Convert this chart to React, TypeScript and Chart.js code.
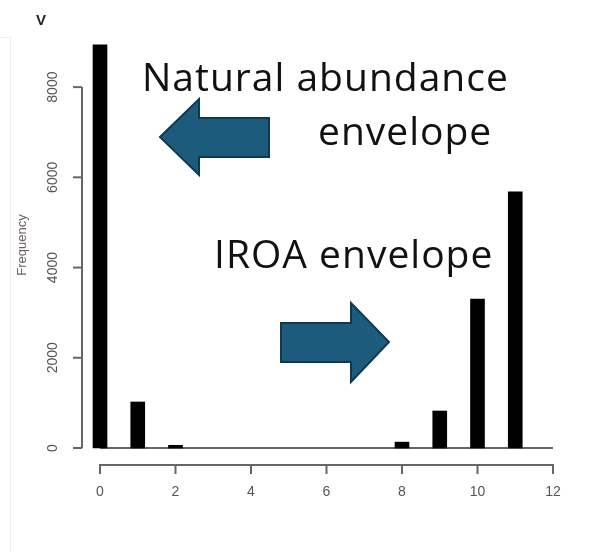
import React, { useEffect, useRef } from "react";
import { Chart, registerables } from "chart.js";

Chart.register(...registerables);

// ---- data ----
const bins = [0, 1, 2, 8, 9, 10, 11];
const frequencies = [8940, 1020, 60, 130, 820, 3300, 5680];
const xTicks = [0, 2, 4, 6, 8, 10, 12];
const yTicks = [0, 2000, 4000, 6000, 8000];
const yTitle = "Frequency";
const naturalLabel = ["Natural abundance", "envelope"];
const iroaLabel = "IROA envelope";
const cornerMark = "V";

const AXIS_COLOR = "#666666";
const TICK_FONT = "14px 'Liberation Sans', Arial, sans-serif";
const NOTE_FONT = "39px 'Open Sans', sans-serif";
const ARROW_FILL = "#1d5b7d";
const ARROW_STROKE = "#0e3a50";

function poly(ctx: CanvasRenderingContext2D, pts: number[][]) {
  ctx.beginPath();
  pts.forEach((p, i) => (i === 0 ? ctx.moveTo(p[0], p[1]) : ctx.lineTo(p[0], p[1])));
  ctx.closePath();
  ctx.fillStyle = ARROW_FILL;
  ctx.fill();
  ctx.strokeStyle = ARROW_STROKE;
  ctx.lineWidth = 2;
  ctx.lineJoin = "miter";
  ctx.stroke();
}

const rAxesPlugin = {
  id: "rAxes",
  beforeDatasetsDraw(chart: any) {
    const { ctx, scales } = chart;
    const x = scales.x;
    const y = scales.y;
    const y0 = y.getPixelForValue(0);
    ctx.save();
    ctx.strokeStyle = AXIS_COLOR;
    ctx.lineWidth = 2;
    ctx.beginPath();
    ctx.moveTo(x.getPixelForValue(xTicks[0]), y0);
    ctx.lineTo(x.getPixelForValue(xTicks[xTicks.length - 1]), y0);
    ctx.stroke();
    ctx.restore();
  },
  afterDraw(chart: any) {
    const { ctx, scales } = chart;
    const x = scales.x;
    const y = scales.y;
    ctx.save();

    // faint frame remnant
    ctx.strokeStyle = "#eeeeee";
    ctx.lineWidth = 1;
    ctx.beginPath();
    ctx.moveTo(0, 37.5);
    ctx.lineTo(10.5, 37.5);
    ctx.lineTo(10.5, 552);
    ctx.stroke();

    // y axis (R style, offset)
    const ax = x.left - 18;
    ctx.strokeStyle = AXIS_COLOR;
    ctx.lineWidth = 2;
    ctx.beginPath();
    ctx.moveTo(ax, y.getPixelForValue(yTicks[0]));
    ctx.lineTo(ax, y.getPixelForValue(yTicks[yTicks.length - 1]));
    ctx.stroke();
    ctx.font = TICK_FONT;
    ctx.fillStyle = "#555555";
    ctx.textAlign = "center";
    ctx.textBaseline = "middle";
    yTicks.forEach((v) => {
      const py = y.getPixelForValue(v);
      ctx.beginPath();
      ctx.moveTo(ax, py);
      ctx.lineTo(ax - 9, py);
      ctx.stroke();
      ctx.save();
      ctx.translate(ax - 29, py);
      ctx.rotate(-Math.PI / 2);
      ctx.fillText(String(v), 0, 0);
      ctx.restore();
    });

    // x axis (R style, offset)
    const ay = y.getPixelForValue(0) + 17;
    ctx.beginPath();
    ctx.moveTo(x.getPixelForValue(xTicks[0]), ay);
    ctx.lineTo(x.getPixelForValue(xTicks[xTicks.length - 1]), ay);
    ctx.stroke();
    xTicks.forEach((v) => {
      const px = x.getPixelForValue(v);
      ctx.beginPath();
      ctx.moveTo(px, ay - 1);
      ctx.lineTo(px, ay + 9);
      ctx.stroke();
    });

    // corner mark
    ctx.fillStyle = "#222222";
    ctx.font = "bold 15px 'Liberation Sans', Arial, sans-serif";
    ctx.textAlign = "center";
    ctx.textBaseline = "alphabetic";
    ctx.fillText(cornerMark, 41, 25);

    // annotations
    ctx.fillStyle = "#111111";
    ctx.font = NOTE_FONT;
    (ctx as any).letterSpacing = "1px";
    ctx.textAlign = "left";
    ctx.textBaseline = "alphabetic";
    ctx.fillText(naturalLabel[0], 142, 91);
    ctx.fillText(naturalLabel[1], 318, 145);
    ctx.fillText(iroaLabel, 214, 268);
    (ctx as any).letterSpacing = "0px";

    poly(ctx, [
      [160, 137],
      [199, 99],
      [199, 118],
      [269, 118],
      [269, 157],
      [199, 157],
      [199, 175],
    ]);
    poly(ctx, [
      [281, 323],
      [351, 323],
      [351, 303],
      [389, 342],
      [351, 382],
      [351, 362],
      [281, 362],
    ]);

    ctx.restore();
  },
};

export default function App() {
  const ref = useRef<HTMLCanvasElement | null>(null);

  useEffect(() => {
    document.body.style.margin = "0";
    const canvas = ref.current;
    if (!canvas) return;
    const chart = new Chart(canvas, {
      type: "bar",
      data: {
        datasets: [
          {
            data: bins.map((b, i) => ({ x: b, y: frequencies[i] })),
            backgroundColor: "#000000",
            borderWidth: 0,
            barThickness: 14,
            clip: false as any,
          },
        ],
      },
      options: {
        responsive: false,
        animation: false,
        layout: { padding: { left: 15, right: 54, top: 42, bottom: 51 } },
        plugins: {
          legend: { display: false },
          tooltip: { enabled: false },
        },
        scales: {
          x: {
            type: "linear",
            min: 0,
            max: 12,
            offset: false,
            grid: { display: false, drawTicks: false, offset: false },
            border: { display: false },
            afterBuildTicks: (s: any) => {
              s.ticks = xTicks.map((v) => ({ value: v }));
            },
            afterFit: (s: any) => {
              s.height = 53;
              s.paddingLeft = 0;
              s.paddingRight = 0;
              s.paddingTop = 0;
              s.paddingBottom = 0;
            },
            ticks: {
              padding: 36,
              autoSkip: false,
              maxRotation: 0,
              color: "#555555",
              font: { family: "'Liberation Sans', Arial, sans-serif", size: 14 },
            },
          },
          y: {
            min: 0,
            max: 9000,
            grid: { display: false, drawTicks: false },
            border: { display: false },
            ticks: { display: false, stepSize: 2000 },
            afterFit: (s: any) => {
              s.width = 85;
              s.paddingLeft = 0;
              s.paddingRight = 0;
              s.paddingTop = 0;
              s.paddingBottom = 0;
            },
            title: {
              display: true,
              text: yTitle,
              color: "#6a5f5f",
              font: { family: "'Liberation Sans', Arial, sans-serif", size: 13 },
              padding: { top: 0, bottom: 0 },
            },
          },
        },
      },
      plugins: [rAxesPlugin],
    });
    return () => chart.destroy();
  }, []);

  return (
    <div style={{ width: 607, height: 552, background: "#ffffff" }}>
      <canvas ref={ref} width={607} height={552} style={{ display: "block" }} />
    </div>
  );
}
